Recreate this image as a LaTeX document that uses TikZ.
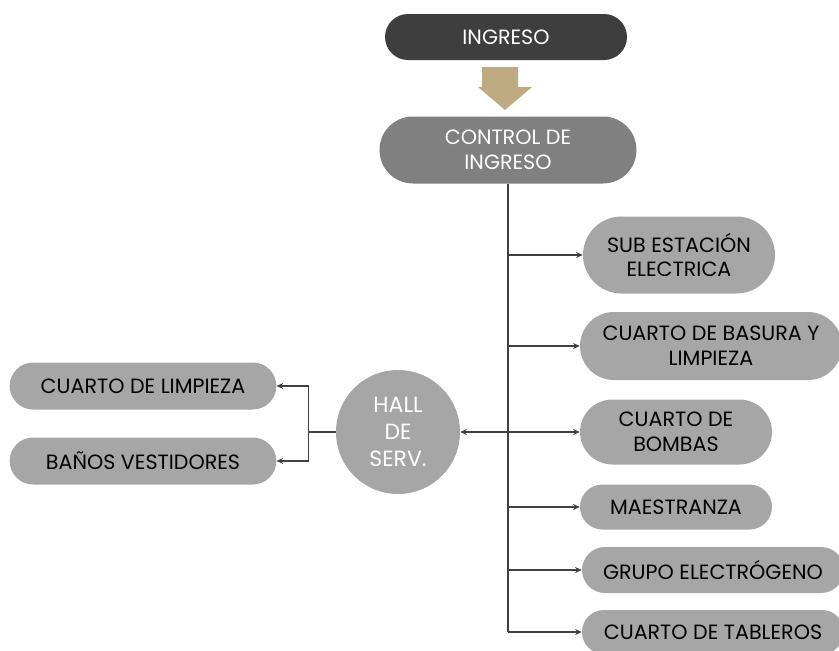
\documentclass[tikz,border=0pt]{standalone}
\usepackage{fontspec}
\setmainfont{Poppins}
\usetikzlibrary{positioning, shapes.misc, arrows.meta, calc}

\definecolor{darkbox}{RGB}{62,62,62}
\definecolor{midbox}{RGB}{128,128,128}
\definecolor{lightbox}{RGB}{166,166,166}
\definecolor{tanarrow}{RGB}{190,170,128}
\definecolor{linegray}{RGB}{64,64,64}

\begin{document}
\begin{tikzpicture}[x=0.75pt, y=-0.75pt, >={Stealth[length=5pt,width=4.5pt]},
    pill/.style={rounded rectangle, fill=lightbox, inner sep=0pt, align=center,
                 font=\fontsize{15.5}{18.5}\selectfont},
    link/.style={draw=linegray, line width=1.1pt}]
        \useasboundingbox (0,0) rectangle (839,650);

        % Nodes
        \node [pill, fill=darkbox, text=white, minimum width=181.5pt, minimum height=34.5pt]
              (ing) at (506, 37)  {INGRESO};
        \node [pill, fill=midbox, text=white, minimum width=192.75pt, minimum height=50.25pt]
              (ctrl) at (508, 150) {CONTROL DE\\INGRESO};

        \node [pill, minimum width=144pt, minimum height=57.75pt]  (sub) at (679, 255) {SUB ESTACIÓN\\ELECTRICA};
        \node [pill, minimum width=196.5pt, minimum height=51pt]   (bas) at (711, 346) {CUARTO DE BASURA Y\\LIMPIEZA};
        \node [pill, minimum width=144pt, minimum height=48.75pt]  (bom) at (676, 432) {CUARTO DE\\BOMBAS};
        \node [pill, minimum width=144pt, minimum height=33.75pt]  (mae) at (676, 507) {MAESTRANZA};
        \node [pill, minimum width=196.5pt, minimum height=34.5pt] (gru) at (713, 570) {GRUPO ELECTRÓGENO};
        \node [pill, minimum width=196.5pt, minimum height=33pt]   (tab) at (713, 632) {CUARTO DE TABLEROS};

        \node [circle, fill=lightbox, text=white, minimum size=93pt, inner sep=0pt, align=center,
               font=\fontsize{16.5}{20}\selectfont] (hall) at (398, 432) {HALL\\DE\\SERV.};

        \node [pill, minimum width=200pt, minimum height=35.25pt] (lim) at (143, 386) {CUARTO DE LIMPIEZA};
        \node [pill, minimum width=200pt, minimum height=35.25pt] (ban) at (143, 461) {BAÑOS VESTIDORES};

        % Block arrow
        \fill [tanarrow] (482, 67) -- (518, 67) -- (518, 87) -- (532, 87) -- (505, 110)
                         -- (478, 87) -- (482, 87) -- cycle;

        % Edges
        \draw [link] (ctrl.south) -- (ctrl.south |- tab.west);
        \draw [link, ->] (ctrl.south |- sub.west) -- (sub.west);
        \draw [link, ->] (ctrl.south |- bas.west) -- (bas.west);
        \draw [link, ->] (ctrl.south |- mae.west) -- (mae.west);
        \draw [link, ->] (ctrl.south |- gru.west) -- (gru.west);
        \draw [link, ->] (ctrl.south |- tab.west) -- (tab.west);
        \draw [link, <->] (hall.east) -- (bom.west);

        \draw [link] (hall.west) -- ++(-27, 0) coordinate (lj);
        \draw [link, ->] (lj) |- (lim.east);
        \draw [link, ->] (lj) |- (ban.east);

      \end{tikzpicture}
\end{document}
